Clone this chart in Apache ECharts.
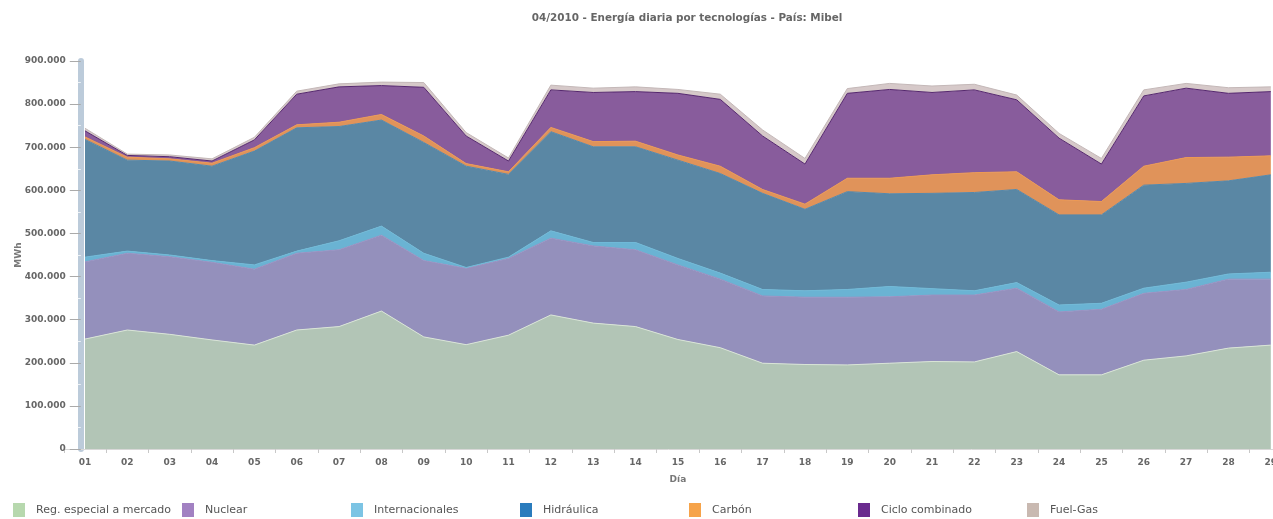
<!doctype html>
<html lang="es">

<head>
  <meta charset="utf-8">
  <title>Energía diaria por tecnologías</title>
  <style>
    html, body {
      margin: 0;
      padding: 0;
      background: #fff;
    }
    #chart {
      width: 1273px;
      height: 519px;
    }
  </style>
</head>

<body>
  <div id="chart"></div>
  <script src="https://cdn.jsdelivr.net/npm/echarts@6/dist/echarts.min.js"></script>
  <script>
    // días del mes
    const dias = ["01", "02", "03", "04", "05", "06", "07", "08", "09", "10",
      "11", "12", "13", "14", "15", "16", "17", "18", "19", "20",
      "21", "22", "23", "24", "25", "26", "27", "28", "29"];

    // energía diaria (MWh) por tecnología
    const regEspecial = [255000, 276000, 266000, 253000, 241000, 276000, 284000, 320000, 260000, 242000,
      264000, 311000, 292000, 284000, 254000, 235000, 199000, 196000, 195000, 199000,
      203000, 202000, 226000, 172000, 172000, 206000, 216000, 234000, 241000];
    const nuclear = [179000, 178000, 180000, 180000, 176000, 178000, 178000, 176000, 177000, 177000,
      178000, 178000, 179000, 178000, 173000, 159000, 156000, 156000, 157000, 154000,
      154000, 155000, 147000, 146000, 152000, 155000, 154000, 160000, 153000];
    const internacionales = [11000, 5000, 4000, 4000, 10000, 5000, 21000, 21000, 17000, 2000,
      3000, 17000, 8000, 17000, 15000, 14000, 15000, 15000, 18000, 24000,
      15000, 10000, 13000, 16000, 14000, 12000, 17000, 12000, 16000];
    const hidraulica = [273000, 211000, 218000, 219000, 264000, 286000, 265000, 246000, 257000, 235000,
      192000, 230000, 222000, 222000, 228000, 231000, 223000, 189000, 227000, 215000,
      221000, 228000, 216000, 209000, 205000, 239000, 229000, 216000, 226000];
    const carbon = [6000, 7000, 5000, 7000, 8000, 7000, 10000, 13000, 15000, 6000,
      6000, 10000, 12000, 13000, 12000, 17000, 9000, 12000, 31000, 36000,
      43000, 46000, 41000, 35000, 31000, 44000, 60000, 55000, 44000];
    const cicloCombinado = [14000, 4000, 5000, 5000, 18000, 71000, 82000, 67000, 113000, 64000,
      25000, 87000, 114000, 115000, 143000, 155000, 124000, 93000, 197000, 206000,
      191000, 192000, 167000, 143000, 87000, 163000, 161000, 148000, 149000];
    const fuelGas = [6000, 3000, 4000, 5000, 6000, 7000, 7000, 8000, 11000, 8000,
      7000, 11000, 10000, 11000, 9000, 12000, 14000, 13000, 11000, 14000,
      15000, 13000, 11000, 11000, 13000, 14000, 11000, 13000, 11000];

    const tecnologias = [
      { name: "Reg. especial a mercado", data: regEspecial, legend: "#b7d8ae", area: "#b2c5b6", line: "#d9e5d6" },
      { name: "Nuclear", data: nuclear, legend: "#a281c2", area: "#9490bc", line: "#9a92c2" },
      { name: "Internacionales", data: internacionales, legend: "#7cc4e4", area: "#6ab3d3", line: "#70bad8" },
      { name: "Hidráulica", data: hidraulica, legend: "#2a7cbd", area: "#5a87a4", line: "#5488ab" },
      { name: "Carbón", data: carbon, legend: "#f6a34a", area: "#e0935a", line: "#ee9a52" },
      { name: "Ciclo combinado", data: cicloCombinado, legend: "#6a2a8e", area: "#885c9c", line: "#55276e" },
      { name: "Fuel-Gas", data: fuelGas, legend: "#c9b9b1", area: "#d6c9c9", line: "#c4b8b8" },
    ];

    const fuente = "DejaVu Sans";

    // formato 900.000
    function miles(v) {
      return String(v).replace(/\B(?=(\d{3})+(?!\d))/g, ".");
    }

    const series = tecnologias.map(t => ({
      name: t.name,
      type: "line",
      stack: "total",
      data: t.data,
      symbol: "none",
      showSymbol: false,
      itemStyle: { color: t.legend },
      lineStyle: { color: t.line, width: 1 },
      areaStyle: { color: t.area, opacity: 1 },
      emphasis: { disabled: true },
    }));

    // una leyenda por tecnología, en columnas fijas
    const legends = tecnologias.map((t, i) => ({
      data: [{ name: t.name, itemStyle: { color: t.legend, borderWidth: 0 } }],
      left: 13 + i * 169,
      top: 503,
      padding: 0,
      icon: "rect",
      itemWidth: 12,
      itemHeight: 14,
      selectedMode: false,
      textStyle: {
        fontFamily: fuente,
        fontSize: 11,
        color: "#555",
        padding: [0, 0, 0, 6],
      },
    }));

    const chart = echarts.init(document.getElementById("chart"), null, { renderer: "canvas" });
    chart.setOption({
      animation: false,
      backgroundColor: "#fff",
      title: {
        text: "04/2010 - Energía diaria por tecnologías - País: Mibel",
        left: 682,
        top: 8,
        textAlign: "center",
        textStyle: {
          fontFamily: fuente,
          fontSize: 10.4,
          fontWeight: "bold",
          color: "#666",
        },
      },
      legend: legends,
      grid: {
        left: 63.8,
        width: 1228.2,
        top: 61,
        bottom: 70,
        outerBoundsMode: "none",
      },
      xAxis: {
        type: "category",
        data: dias,
        boundaryGap: true,
        name: "Día",
        nameLocation: "middle",
        nameGap: 26,
        nameTextStyle: { fontFamily: fuente, fontSize: 9, fontWeight: "bold", color: "#777" },
        axisLine: { lineStyle: { color: "#d8d8d8", width: 1 } },
        axisTick: { show: true, length: 4, lineStyle: { color: "#c8c8c8" } },
        axisLabel: {
          margin: 9,
          fontFamily: fuente,
          fontSize: 9,
          fontWeight: "bold",
          color: "#666",
        },
        splitLine: { show: false },
      },
      yAxis: {
        type: "value",
        min: 0,
        max: 900000,
        interval: 100000,
        offset: -17,
        name: "MWh",
        nameLocation: "middle",
        nameRotate: 90,
        nameGap: 58,
        nameMoveOverlap: false,
        nameTextStyle: { fontFamily: fuente, fontSize: 9, fontWeight: "bold", color: "#777" },
        axisLine: { show: true, lineStyle: { color: "#bccbda", width: 6 } },
        axisTick: { show: true, length: 11, lineStyle: { color: "#aaa" } },
        minorTick: { show: true, splitNumber: 2, length: 3, lineStyle: { color: "#eef2f6" } },
        axisLabel: {
          margin: 15,
          fontFamily: fuente,
          fontSize: 9,
          fontWeight: "bold",
          color: "#666",
          formatter: miles,
        },
        splitLine: { show: false },
      },
      series: series,
    });
  </script>
</body>

</html>
